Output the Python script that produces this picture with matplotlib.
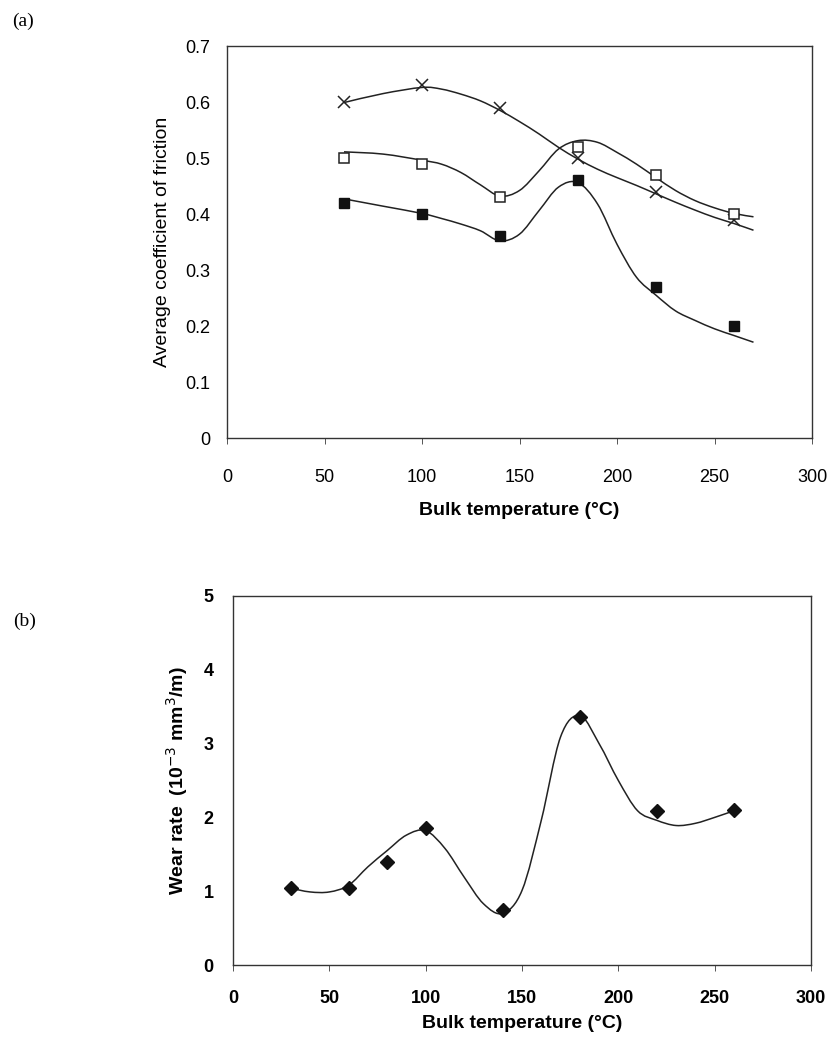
import numpy as np
import matplotlib.pyplot as plt
from matplotlib.path import Path
from matplotlib.patches import PathPatch

plt.rcParams['font.family'] = ['Liberation Sans', 'DejaVu Sans']

# (a) measured points
temp_a = [60, 100, 140, 180, 220, 260]
cof_cross = [0.60, 0.63, 0.59, 0.50, 0.44, 0.39]
cof_open = [0.50, 0.49, 0.43, 0.52, 0.47, 0.40]
cof_filled = [0.42, 0.40, 0.36, 0.46, 0.27, 0.20]

# (a) fitted curves
curve_t = [60, 80, 100, 110, 120, 130, 140, 150, 160, 170, 180, 190,
           200, 210, 220, 230, 240, 250, 260, 270]
curve_cross = [0.599, 0.615, 0.626, 0.623, 0.614, 0.602, 0.585, 0.565, 0.543, 0.519,
               0.498, 0.480, 0.465, 0.451, 0.436, 0.421, 0.407, 0.394, 0.383, 0.371]
curve_open = [0.511, 0.507, 0.496, 0.489, 0.474, 0.452, 0.432, 0.442, 0.477, 0.516,
              0.531, 0.528, 0.510, 0.489, 0.465, 0.442, 0.424, 0.411, 0.401, 0.395]
curve_filled = [0.427, 0.414, 0.401, 0.392, 0.382, 0.370, 0.352, 0.364, 0.406, 0.448,
                0.456, 0.418, 0.346, 0.287, 0.255, 0.227, 0.210, 0.195, 0.183, 0.171]

# (b) measured points
temp_b = [30, 60, 80, 100, 140, 180, 220, 260]
wear = [1.05, 1.05, 1.40, 1.86, 0.74, 3.36, 2.09, 2.10]

# (b) fitted curve
curve_tb = [30, 40, 50, 60, 70, 80, 90, 100, 110, 120, 130, 140, 150, 160,
            170, 180, 190, 200, 210, 220, 230, 240, 250, 260]
curve_wear = [1.04, 0.99, 0.99, 1.08, 1.33, 1.55, 1.76, 1.82, 1.58, 1.19, 0.83, 0.70,
              1.01, 1.96, 3.09, 3.38, 3.00, 2.50, 2.09, 1.96, 1.89, 1.92, 2.00, 2.09]


def smooth_line(ax, xs, ys):
    # catmull-rom through the read points, drawn as bezier path
    pts = np.column_stack([xs, ys]).astype(float)
    verts = [pts[0]]
    codes = [Path.MOVETO]
    for i in range(len(pts) - 1):
        p0 = pts[i - 1] if i > 0 else pts[i]
        p1, p2 = pts[i], pts[i + 1]
        p3 = pts[i + 2] if i + 2 < len(pts) else pts[i + 1]
        verts += [p1 + (p2 - p0) / 6, p2 - (p3 - p1) / 6, p2]
        codes += [Path.CURVE4] * 3
    ax.add_patch(PathPatch(Path(verts, codes), fill=False, lw=1.1, ec='#222222'))


fig = plt.figure(figsize=(8.32, 10.38), dpi=100)
W, H = 832, 1038

# ---- (a)
ax1 = fig.add_axes([227 / W, 1 - 438 / H, (812 - 227) / W, (438 - 46) / H])
smooth_line(ax1, curve_t, curve_cross)
smooth_line(ax1, curve_t, curve_open)
smooth_line(ax1, curve_t, curve_filled)
ax1.plot(temp_a, cof_cross, 'x', color='#222222', ms=9, mew=1.1)
ax1.plot(temp_a, cof_open, 's', mfc='white', mec='#222222', ms=7, mew=1.1)
ax1.plot(temp_a, cof_filled, 's', color='#111111', ms=7)
ax1.set_xlim(0, 300)
ax1.set_ylim(0, 0.7)
ax1.set_xticks(range(0, 301, 50))
ax1.set_yticks(np.arange(0, 0.71, 0.1))
ax1.set_yticklabels(['0', '0.1', '0.2', '0.3', '0.4', '0.5', '0.6', '0.7'])
ax1.tick_params(labelsize=13, length=4, width=0.7, color='#555555', pad=18)
ax1.tick_params(axis='y', length=0, pad=12)
ax1.set_ylabel('Average coefficient of friction', fontsize=14, labelpad=10)
ax1.set_xlabel('Bulk temperature (°C)', fontsize=14, fontweight='bold', labelpad=12)
for s in ax1.spines.values():
    s.set_linewidth(1.0)
    s.set_color('#333333')

# ---- (b)
ax2 = fig.add_axes([233 / W, 1 - 965 / H, (811 - 233) / W, (965 - 596) / H])
smooth_line(ax2, curve_tb, curve_wear)
ax2.plot(temp_b, wear, 'D', color='#111111', ms=7.5)
ax2.set_xlim(0, 300)
ax2.set_ylim(0, 5)
ax2.set_xticks(range(0, 301, 50))
ax2.set_yticks(range(0, 6))
ax2.tick_params(labelsize=13, length=4, width=0.7, color='#555555', pad=14)
ax2.tick_params(axis='y', length=0, pad=14)
for lab in ax2.get_xticklabels() + ax2.get_yticklabels():
    lab.set_fontweight('bold')
ax2.set_ylabel('Wear rate  (10$^{-3}$ mm$^{3}$/m)', fontsize=14, fontweight='bold', labelpad=10)
ax2.set_xlabel('Bulk temperature (°C)', fontsize=14, fontweight='bold', labelpad=6)
for s in ax2.spines.values():
    s.set_linewidth(1.0)
    s.set_color('#333333')

fig.text(12 / W, 1 - 21 / H, '(a)', fontsize=14, family=['Liberation Serif', 'DejaVu Serif'], va='center')
fig.text(13 / W, 1 - 621 / H, '(b)', fontsize=14, family=['Liberation Serif', 'DejaVu Serif'], va='center')

fig.savefig('out.png', dpi=100)
